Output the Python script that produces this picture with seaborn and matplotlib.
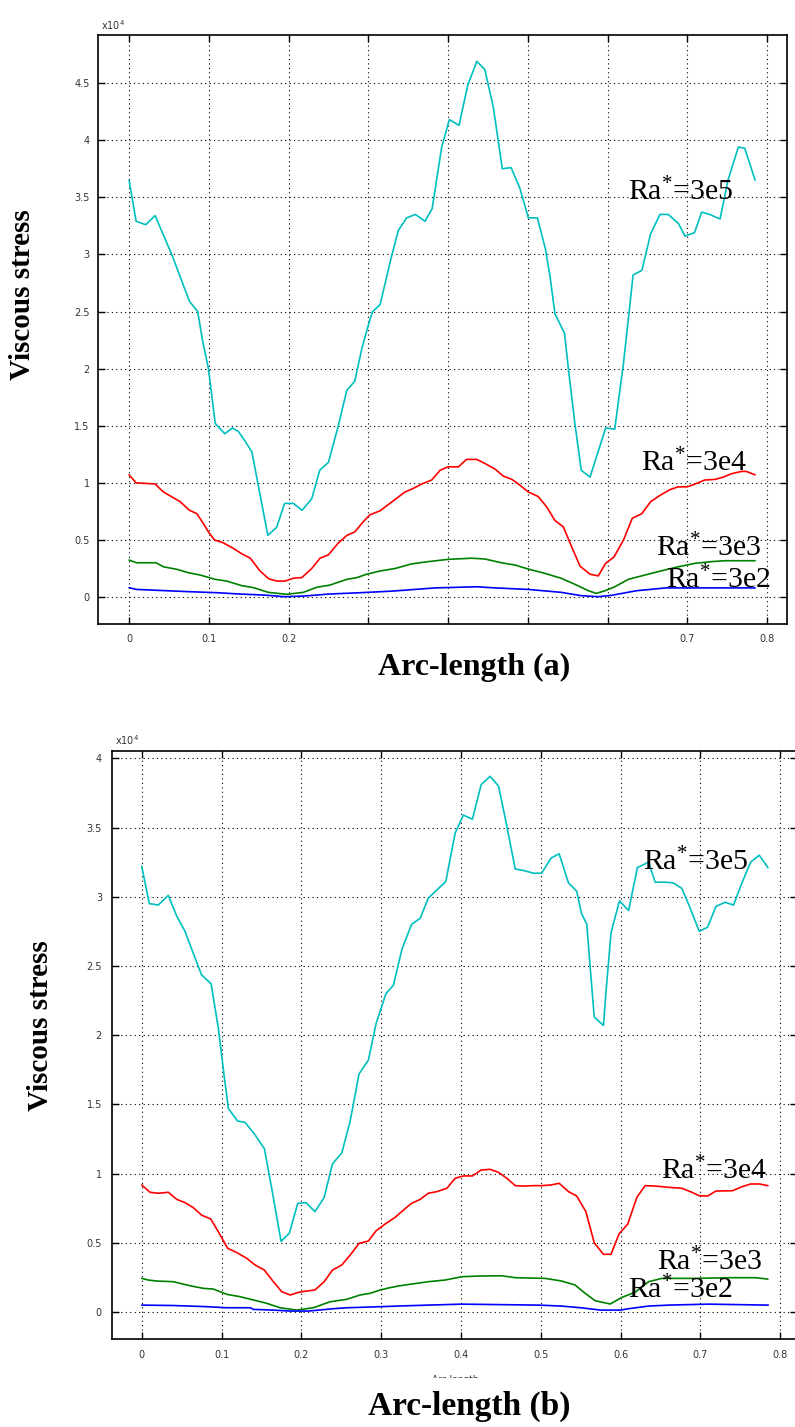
import numpy as np
import pandas as pd
import matplotlib
matplotlib.use("Agg")
import matplotlib.pyplot as plt
import seaborn as sns
from matplotlib.patches import Rectangle

# ---------------- data (viscous stress in units of 1e4) ----------------
ra_labels = ["3e5", "3e4", "3e3", "3e2"]
ra_colors = ["#00bfbf", "#ff0000", "#008000", "#0000ff"]
x_ticks = [0, 0.1, 0.2, 0.3, 0.4, 0.5, 0.6, 0.7, 0.8]
y_ticks_a = [0, 0.5, 1, 1.5, 2, 2.5, 3, 3.5, 4, 4.5]
y_ticks_b = [0, 0.5, 1, 1.5, 2, 2.5, 3, 3.5, 4]

# panel (a)
a_x_3e5 = [0, .0088, .021, .0326, .043, .054, .0756, .086, .092, .0995, .108, .120, .1295, .137, .145,
           .154, .160, .174, .185, .195, .206, .217, .229, .239, .250, .262, .273, .283, .292, .302,
           .3055, .3147, .329, .3376, .348, .359, .371, .380, .392, .4016, .4137, .4246, .436, .446,
           .4567, .468, .479, .490, .5006, .512, .522, .528, .534, .546, .551, .559, .567, .578, .5976,
           .609, .620, .626, .632, .643, .654, .6657, .676, .689, .697, .709, .718, .728, .741, .751,
           .764, .772, .785]
a_y_3e5 = [3.65, 3.29, 3.26, 3.34, 3.17, 2.99, 2.59, 2.50, 2.25, 2.00, 1.52, 1.43, 1.48, 1.45, 1.37,
           1.27, 1.05, .54, .61, .82, .82, .76, .86, 1.11, 1.18, 1.49, 1.81, 1.89, 2.18, 2.43,
           2.50, 2.56, 2.98, 3.21, 3.32, 3.35, 3.29, 3.40, 3.94, 4.18, 4.13, 4.48, 4.69, 4.62,
           4.29, 3.75, 3.76, 3.58, 3.32, 3.32, 3.05, 2.80, 2.48, 2.31, 1.99, 1.52, 1.11, 1.05, 1.48,
           1.47, 2.05, 2.43, 2.82, 2.86, 3.18, 3.35, 3.35, 3.27, 3.16, 3.19, 3.37, 3.35, 3.31, 3.65,
           3.94, 3.93, 3.65]
a_x_3e4 = [0, .0088, .020, .0326, .043, .064, .0756, .085, .093, .0995, .107, .118, .131, .141, .152,
           .164, .175, .185, .1956, .206, .2165, .229, .2394, .250, .262, .273, .283, .2937, .302, .3147,
           .327, .346, .356, .367, .3795, .390, .400, .413, .423, .436, .446, .459, .469, .480, .490,
           .5006, .513, .5236, .534, .5445, .555, .5655, .578, .5883, .5975, .608, .620, .631, .643, .654,
           .6657, .678, .6886, .700, .7117, .722, .7346, .745, .7555, .768, .774, .785]
a_y_3e4 = [1.07, 1.00, .995, .99, .92, .835, .76, .73, .645, .57, .50, .475, .425, .38, .34,
           .23, .16, .14, .14, .165, .17, .25, .34, .37, .47, .54, .57, .66, .72, .755,
           .82, .92, .95, .99, 1.025, 1.11, 1.14, 1.14, 1.205, 1.205, 1.17, 1.12, 1.06, 1.03, .98,
           .92, .88, .79, .67, .615, .44, .27, .20, .185, .295, .35, .50, .69, .73, .835,
           .89, .94, .965, .965, .995, 1.025, 1.03, 1.05, 1.08, 1.10, 1.10, 1.07]
a_x_3e3 = [0, .0096, .0338, .043, .0598, .0744, .089, .108, .1225, .141, .156, .1746, .1977, .2185, .235,
           .252, .273, .2855, .298, .3147, .3335, .354, .375, .400, .4296, .446, .467, .484, .5006, .5215,
           .542, .561, .576, .586, .5967, .609, .626, .647, .6678, .6886, .7095, .730, .747, .785]
a_y_3e3 = [.324, .30, .30, .265, .243, .213, .193, .155, .14, .10, .082, .041, .024, .041, .085,
           .105, .155, .17, .20, .228, .25, .29, .31, .33, .34, .333, .30, .28, .245, .207,
           .164, .105, .055, .032, .055, .09, .155, .193, .23, .265, .295, .31, .318, .318]
a_x_3e2 = [0, .0088, .048, .075, .11, .14, .17, .195, .22, .25, .29, .33, .384, .436, .459,
           .50, .542, .567, .588, .605, .636, .673, .785]
a_y_3e2 = [.082, .067, .055, .047, .038, .026, .017, .003, .009, .026, .038, .052, .08, .09, .08,
           .067, .041, .012, .003, .015, .055, .08, .08]

# panel (b)
b_x_3e5 = [0, .0095, .0208, .0333, .0439, .0543, .0647, .075, .087, .096, .103, .1086, .120, .1295, .142,
           .1537, .163, .1746, .185, .1955, .206, .217, .2285, .239, .2507, .261, .2723, .284, .2937, .306,
           .3153, .326, .338, .349, .359, .370, .381, .3927, .403, .4143, .4253, .4365, .447, .455, .468,
           .478, .491, .501, .513, .523, .5347, .545, .551, .5577, .5618, .567, .5785, .5815, .588, .5986,
           .610, .621, .635, .6433, .6558, .666, .6768, .687, .6985, .709, .7194, .731, .7415, .752, .763,
           .7737, .7846]
b_y_3e5 = [3.22, 2.95, 2.94, 3.01, 2.86, 2.75, 2.59, 2.435, 2.37, 2.05, 1.72, 1.47, 1.38, 1.37, 1.28,
           1.18, .89, .51, .57, .785, .79, .725, .826, 1.07, 1.15, 1.375, 1.72, 1.82, 2.085, 2.30,
           2.36, 2.62, 2.80, 2.845, 2.99, 3.05, 3.11, 3.46, 3.59, 3.56, 3.81, 3.87, 3.80, 3.58, 3.20,
           3.19, 3.17, 3.17, 3.28, 3.31, 3.10, 3.04, 2.88, 2.80, 2.495, 2.13, 2.07, 2.30, 2.74, 2.97,
           2.90, 3.21, 3.25, 3.105, 3.105, 3.10, 3.06, 2.92, 2.75, 2.78, 2.93, 2.96, 2.94, 3.10, 3.25,
           3.30, 3.21]
b_x_3e4 = [0, .0104, .0208, .0333, .0439, .0543, .0647, .075, .0865, .096, .1078, .119, .1316, .142, .1537,
           .165, .1755, .186, .1963, .2068, .217, .2285, .239, .2507, .261, .2723, .284, .2937, .306, .3175,
           .328, .338, .349, .359, .370, .3823, .3927, .403, .4143, .4253, .4365, .447, .4575, .468, .478,
           .491, .501, .513, .523, .5347, .545, .5565, .567, .5785, .588, .598, .609, .6204, .6308, .6433,
           .662, .6768, .6893, .6985, .709, .7194, .740, .752, .763, .7737, .7846]
b_y_3e4 = [.918, .865, .858, .865, .814, .79, .754, .70, .672, .58, .46, .43, .388, .34, .303,
           .219, .147, .123, .142, .152, .159, .219, .303, .34, .41, .496, .513, .587, .64, .684,
           .737, .785, .814, .858, .87, .894, .966, .983, .983, 1.026, 1.031, 1.009, .966, .913, .91,
           .913, .913, .918, .93, .87, .838, .725, .50, .417, .417, .564, .636, .829, .913, .91,
           .90, .894, .865, .84, .838, .874, .876, .905, .925, .925, .913]
b_x_3e3 = [0, .0083, .0188, .0396, .0605, .0772, .0897, .1065, .123, .140, .1567, .1733, .1943, .215, .236,
           .257, .2736, .286, .2987, .311, .3237, .338, .359, .380, .401, .422, .451, .468, .5055, .526,
           .543, .5556, .568, .587, .6016, .618, .635, .6517, .6935, .735, .7687, .7846]
b_y_3e3 = [.243, .231, .224, .219, .19, .171, .166, .128, .111, .087, .063, .031, .014, .031, .074,
           .092, .123, .135, .159, .176, .19, .202, .219, .231, .255, .26, .262, .248, .243, .224,
           .195, .135, .082, .058, .106, .142, .219, .243, .243, .248, .248, .238]
b_x_3e2 = [0, .04, .08, .106, .136, .14, .165, .186, .209, .24, .257, .286, .32, .359, .401,
           .4975, .526, .55, .575, .60, .61, .635, .66, .71, .785]
b_y_3e2 = [.05, .047, .039, .031, .031, .019, .014, .007, .007, .024, .031, .036, .043, .05, .057,
           .05, .043, .031, .014, .014, .024, .043, .05, .057, .05]


def long_frame(xs, ys):
    parts = []
    for lab, x, y in zip(ra_labels, xs, ys):
        d = pd.DataFrame({"arc": x, "stress": y})
        d["Ra"] = lab
        parts.append(d)
    return pd.concat(parts, ignore_index=True)


df_a = long_frame([a_x_3e5, a_x_3e4, a_x_3e3, a_x_3e2], [a_y_3e5, a_y_3e4, a_y_3e3, a_y_3e2])
df_b = long_frame([b_x_3e5, b_x_3e4, b_x_3e3, b_x_3e2], [b_y_3e5, b_y_3e4, b_y_3e3, b_y_3e2])

# ---------------- style ----------------
sns.set_style("ticks", {"xtick.direction": "in", "ytick.direction": "in"})
plt.rcParams["font.family"] = ["DejaVu Sans"]
plt.rcParams["text.color"] = "black"
plt.rcParams["mathtext.fontset"] = "custom"
plt.rcParams["mathtext.rm"] = "Liberation Serif"
plt.rcParams["mathtext.it"] = "Liberation Serif"
plt.rcParams["mathtext.default"] = "regular"

W, H = 795, 1427
fig = plt.figure(figsize=(W / 100, H / 100), dpi=100)
fig.patch.set_facecolor("white")


def px_axes(left, top, right, bottom):
    return fig.add_axes([left / W, 1 - bottom / H, (right - left) / W, (bottom - top) / H])


ax_a = px_axes(98, 35, 787, 624)
ax_b = px_axes(111.7, 750.7, 797, 1339.3)

palette = dict(zip(ra_labels, ra_colors))
serif = ["Liberation Serif", "DejaVu Serif"]


def style_axes(ax, df, xlim, ylim, yticks, pad_x, pad_y):
    sns.lineplot(data=df, x="arc", y="stress", hue="Ra", palette=palette, sort=False,
                 estimator=None, legend=False, lw=1.2, ax=ax)
    ax.set_xlim(*xlim)
    ax.set_ylim(*ylim)
    ax.set_xticks(x_ticks)
    ax.set_yticks(yticks)
    ax.set_xticklabels(["%g" % t for t in x_ticks])
    ax.set_yticklabels(["%g" % t for t in yticks])
    ax.set_xlabel("")
    ax.set_ylabel("")
    ax.grid(True, color="black", linestyle=(0, (1, 3)), linewidth=0.8)
    ax.tick_params(axis="both", which="both", direction="in", length=5, width=1,
                   top=True, right=True, labelsize=7, labelcolor="#333333", color="black")
    ax.tick_params(axis="x", pad=pad_x)
    ax.tick_params(axis="y", pad=pad_y)
    for s in ax.spines.values():
        s.set_visible(True)
        s.set_color("black")
        s.set_linewidth(1.2)


style_axes(ax_a, df_a, (-0.039, 0.825), (-0.236, 4.921), y_ticks_a, 7, 6)
style_axes(ax_b, df_b, (-0.0376, 0.821), (-0.197, 4.055), y_ticks_b, 8, 7)

# curve labels
ann_a = [(0.626, 3.47), (0.642, 1.10), (0.661, 0.353), (0.673, 0.076)]
ann_b = [(0.628, 3.19), (0.651, 0.959), (0.645, 0.303), (0.609, 0.099)]
for ax, pos in ((ax_a, ann_a), (ax_b, ann_b)):
    for lab, (x, y) in zip(ra_labels, pos):
        ax.text(x, y, "Ra$^{*}$=" + lab, family=serif, fontsize=21.5, color="black",
                ha="left", va="baseline")


def ftext(x, y, s, **kw):
    fig.text(x / W, 1 - y / H, s, **kw)


# exponent markers
ftext(101, 30, r"x10$^{4}$", fontsize=7, color="#333333", ha="left", va="baseline",
      math_fontfamily="dejavusans")
ftext(115, 745, r"x10$^{4}$", fontsize=7, color="#333333", ha="left", va="baseline",
      math_fontfamily="dejavusans")

# small axis caption under panel (b), partly covered by the caption box
ftext(455, 1382, "Arc length", fontsize=6.5, color="#333333", ha="center", va="baseline")

# white caption boxes
fig.patches.append(Rectangle((335 / W, 1 - 700 / H), 320 / W, 66 / H, transform=fig.transFigure,
                             facecolor="white", edgecolor="none", zorder=5))
fig.patches.append(Rectangle((327 / W, 0), 468 / W, 1 - 1378 / H, transform=fig.transFigure,
                             facecolor="white", edgecolor="none", zorder=5))

# axis titles
ftext(474, 667, "Arc-length (a)", family=serif, fontweight="bold", fontsize=23, color="black",
      ha="center", va="center", zorder=6)
ftext(469, 1406, "Arc-length (b)", family=serif, fontweight="bold", fontsize=24, color="black",
      ha="center", va="center", zorder=6)
ftext(23, 295, "Viscous stress", family=serif, fontweight="bold", fontsize=21, color="black",
      rotation=90, ha="center", va="center")
ftext(41, 1026, "Viscous stress", family=serif, fontweight="bold", fontsize=21, color="black",
      rotation=90, ha="center", va="center")

fig.savefig("out.png", dpi=100, facecolor="white")
